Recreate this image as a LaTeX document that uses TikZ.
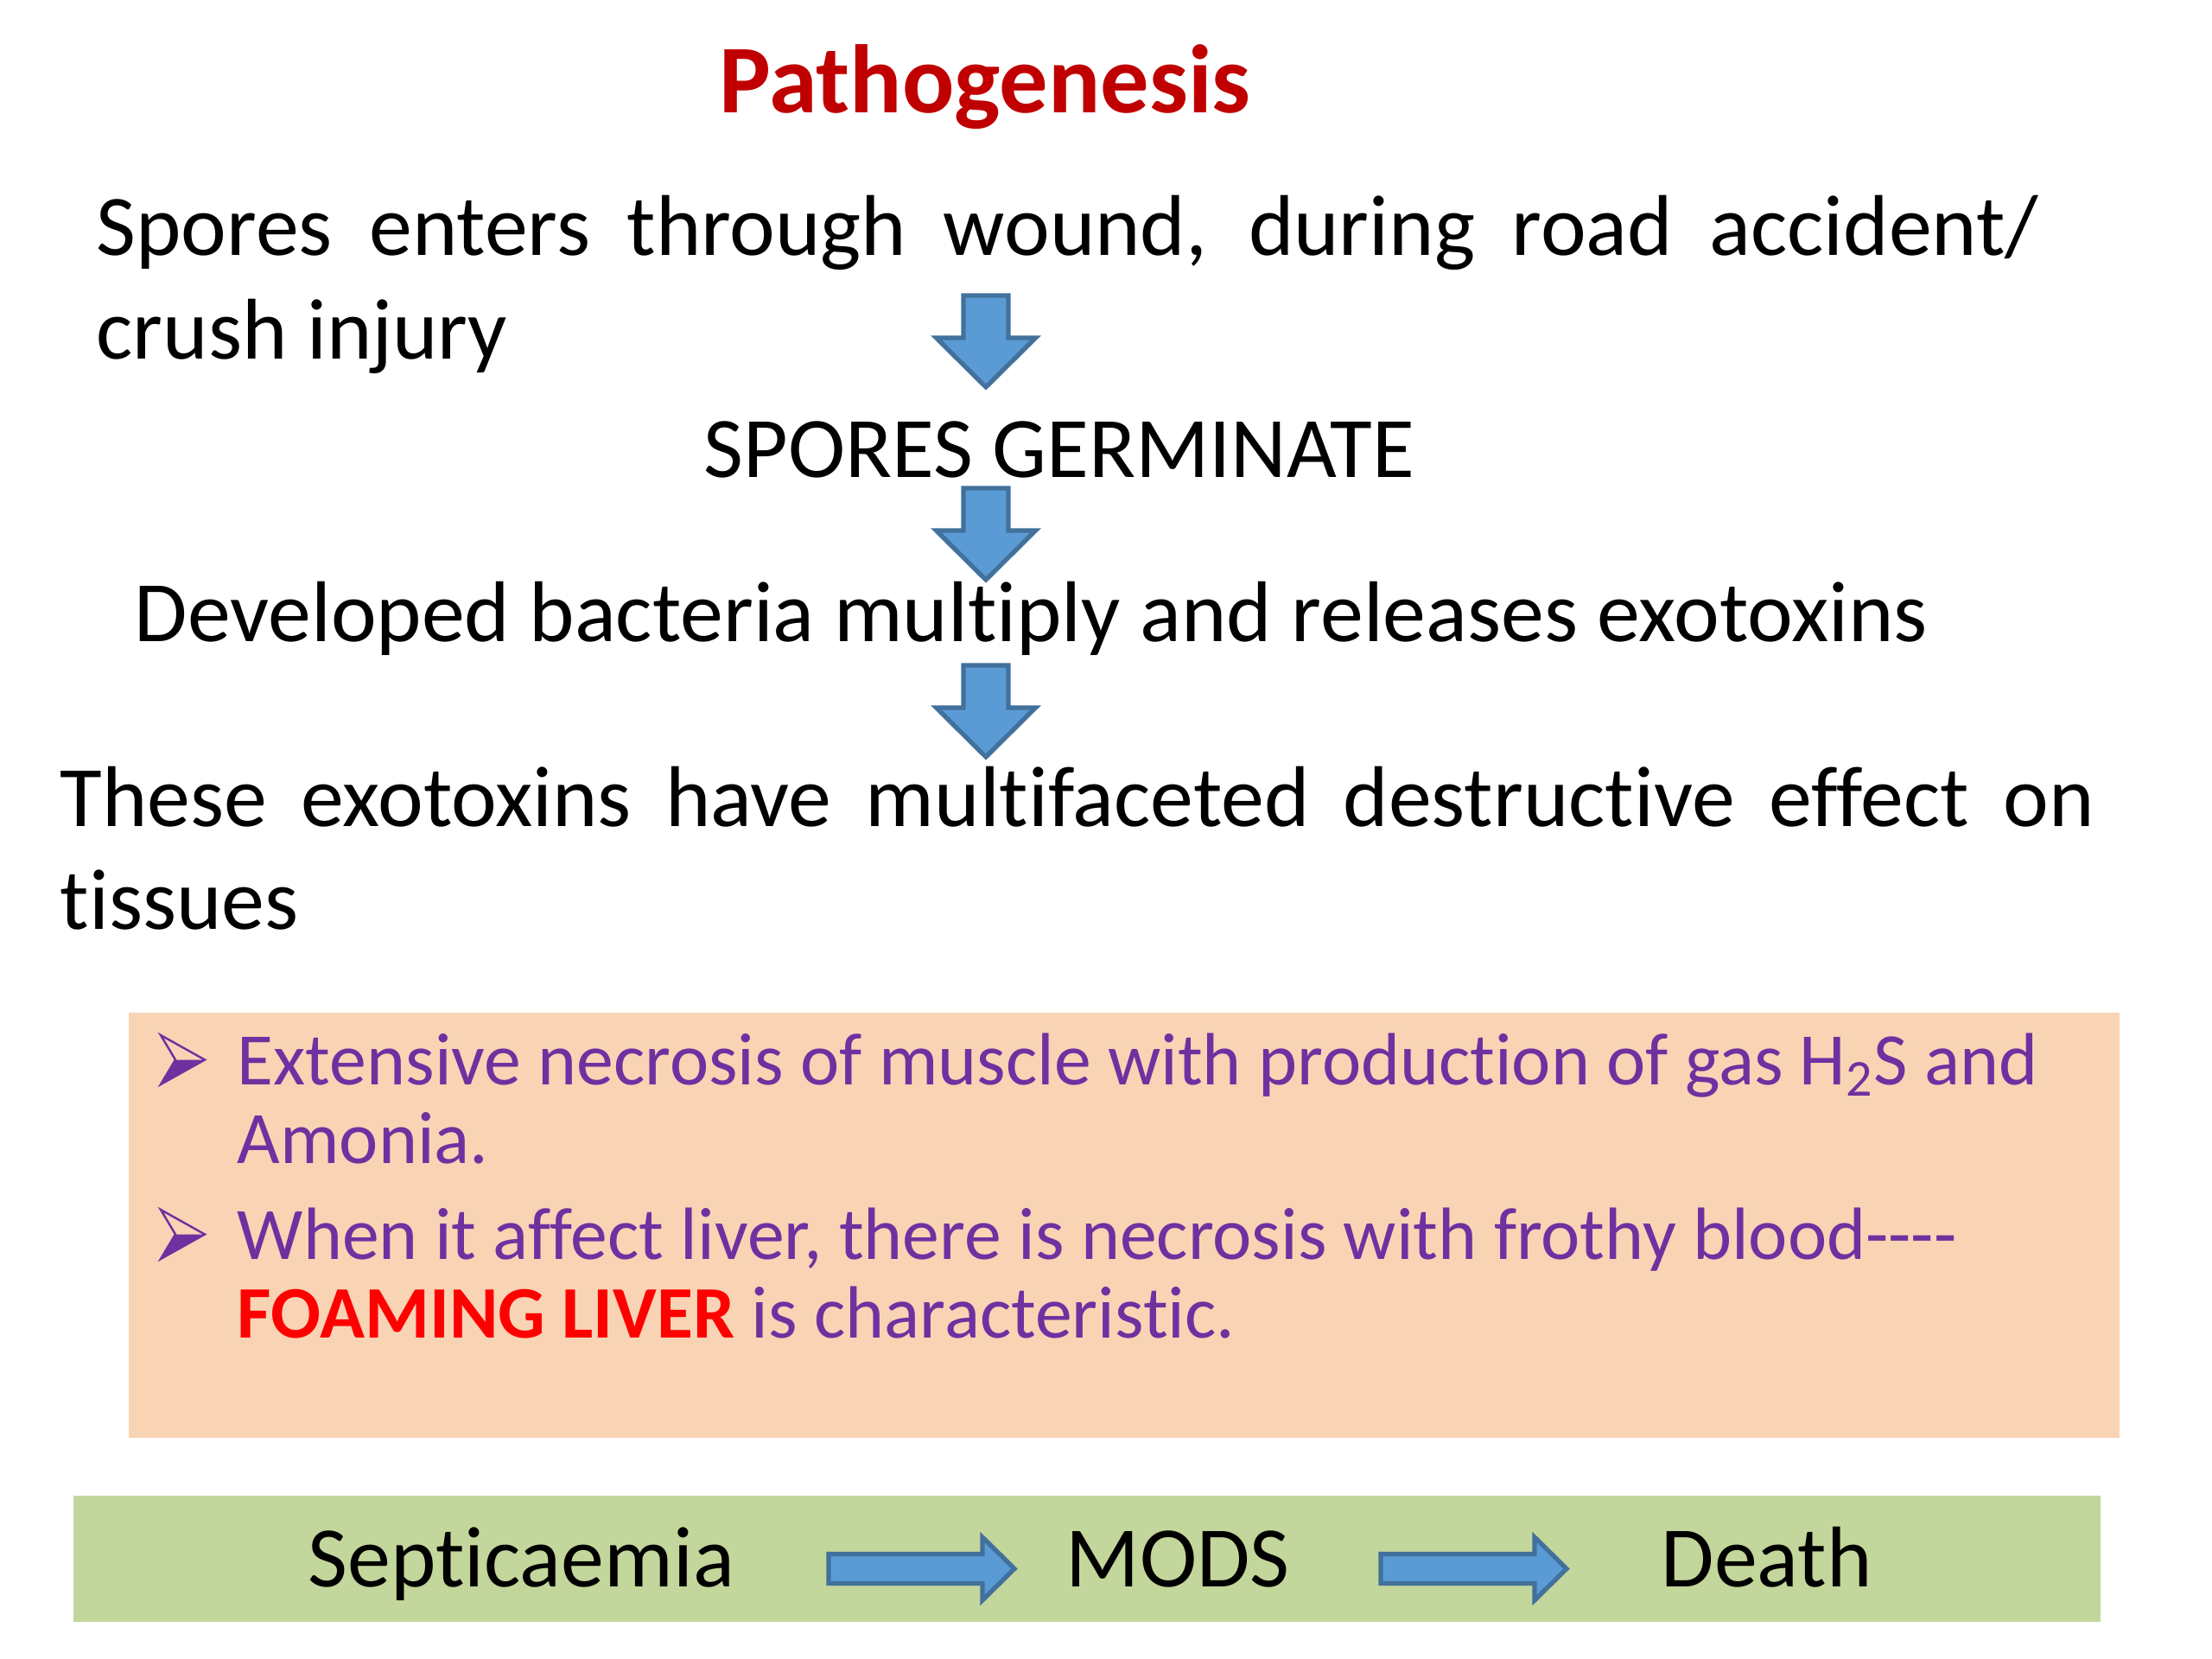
\documentclass[tikz,border=0pt]{standalone}
\usepackage{fontspec}
\setmainfont{Carlito}[Ligatures=NoCommon]
\definecolor{titlered}{HTML}{C00000}
\definecolor{foamred}{HTML}{FF0000}
\definecolor{notepurple}{HTML}{7030A0}
\definecolor{peachbox}{HTML}{F8D4B5}
\definecolor{greenbox}{HTML}{C3D69B}
\definecolor{arrowblue}{HTML}{5B9BD5}
\definecolor{arrowedge}{HTML}{41719C}
\begin{document}
\begin{tikzpicture}[
    txt/.style={anchor=base west, inner sep=0pt, font=\fontsize{28.4}{33.9}\selectfont},
    note/.style={anchor=base west, inner sep=0pt, text=notepurple, align=flush left,
      text width=21.6cm, font=\fontsize{24.4}{25.9}\selectfont},
    blockarr/.style={fill=arrowblue, draw=arrowedge, line width=1.5pt, line join=miter}
  ]
    \useasboundingbox (0, 0) rectangle (25.6, -19.2);

    % Title
    \node[anchor=base, inner sep=0pt, text=titlered,
      font=\fontsize{32}{38}\selectfont\bfseries] (title) at (11.40, -1.31) {Pathogenesis};

    % Steps
    \node[txt, text width=22.48cm, align=justify] (entry) at (1.11, -2.96)
      {Spores enters through wound, during road accident/\linebreak crush injury};
    \node[txt] (germ) at (8.14, -5.52) {SPORES GERMINATE};
    \node[txt] (bact) at (1.55, -7.42) {Developed bacteria multiply and releases exotoxins};
    \node[txt, text width=23.54cm, align=justify] (toxin) at (0.69, -9.56)
      {These exotoxins have multifaceted destructive effect on\linebreak tissues};

    % Down arrows (tip points)
    \foreach \t in {-4.48, -6.71, -8.76} {
      \filldraw[blockarr] (11.41, \t) -- ++(0.575, 0.57) -- ++(-0.315, 0) -- ++(0, 0.49)
        -- ++(-0.52, 0) -- ++(0, -0.49) -- ++(-0.315, 0) -- cycle;
    }

    % Effects box
    \fill[peachbox] (1.49, -11.72) rectangle (24.53, -16.64);
    \node[note] (eff1) at (2.74, -12.55)
      {Extensive necrosis of muscle with production of gas H\textsubscript{2}S and\\Amonia.};
    \node[note] (eff2) at (2.74, -14.57)
      {When it affect liver, there is necrosis with frothy blood-\kern0pt-\kern0pt-\kern0pt-\\
       {\bfseries\color{foamred}FOAMING LIVER} is characteristic.};
    % Bullets
    \foreach \y in {-12.55, -14.57} {
      \draw[notepurple, line width=0.7pt, line join=miter]
        (1.86, \y+0.57) -- (2.37, \y+0.285) -- (1.86, \y) -- (2.03, \y+0.285) -- cycle;
      \fill[notepurple] (2.03, \y+0.285) -- (2.37, \y+0.285) -- (1.86, \y) -- cycle;
    }

    % Outcome bar
    \fill[greenbox] (0.85, -17.31) rectangle (24.31, -18.77);
    \node[txt] (sept) at (3.56, -18.36) {Septicaemia};
    \node[txt] (mods) at (12.33, -18.36) {MODS};
    \node[txt] (death) at (19.22, -18.36) {Death};
    % Right arrows (tip points)
    \foreach \t in {11.74, 18.13} {
      \filldraw[blockarr] (\t, -18.155) -- ++(-0.37, 0.365) -- ++(0, -0.195) -- ++(-1.78, 0)
        -- ++(0, -0.34) -- ++(1.78, 0) -- ++(0, -0.195) -- cycle;
    }
\end{tikzpicture}
\end{document}
